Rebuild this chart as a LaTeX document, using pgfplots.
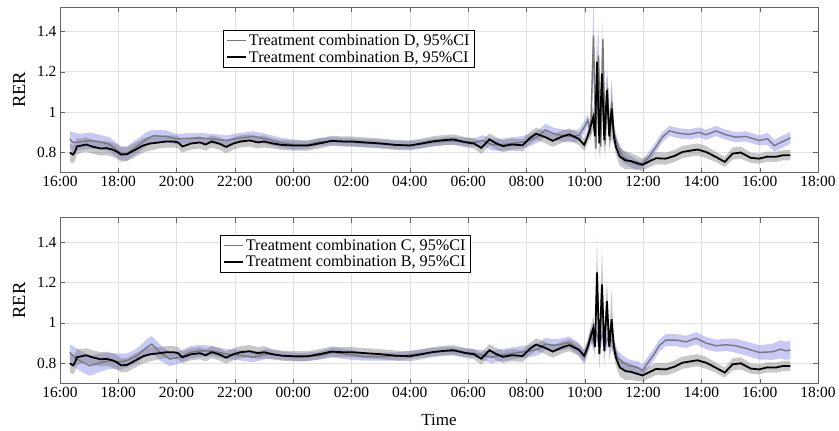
\documentclass[border=0pt]{standalone}
\usepackage{fontspec}
\setmainfont{Liberation Serif}
\usepackage{pgfplots}
\usepackage{pgfplotstable}
\pgfplotsset{compat=1.18}
\usepgfplotslibrary{fillbetween}
\definecolor{ciblue}{RGB}{120,120,235}
\definecolor{cigray}{RGB}{110,110,110}
\definecolor{lgray}{RGB}{120,120,120}
\definecolor{axgray}{RGB}{100,100,100}

% B (shared)
\pgfplotstableread{
x m w
0.34 0.800 0.045
0.45 0.790 0.045
0.52 0.805 0.045
0.58 0.830 0.04
0.75 0.835 0.035
0.9 0.840 0.035
1.1 0.830 0.035
1.4 0.820 0.035
1.6 0.822 0.035
1.8 0.815 0.035
1.95 0.805 0.035
2.1 0.790 0.035
2.3 0.792 0.035
2.6 0.815 0.035
2.85 0.835 0.035
3.1 0.845 0.035
3.4 0.850 0.03
3.65 0.855 0.03
3.9 0.855 0.03
4.05 0.850 0.03
4.2 0.830 0.03
4.5 0.845 0.03
4.8 0.850 0.03
5.0 0.840 0.03
5.2 0.855 0.03
5.45 0.845 0.03
5.7 0.828 0.03
5.95 0.845 0.03
6.2 0.855 0.03
6.5 0.860 0.03
6.8 0.850 0.03
7.0 0.855 0.03
7.3 0.845 0.025
7.6 0.838 0.025
8.0 0.835 0.025
8.5 0.835 0.025
9.0 0.848 0.025
9.3 0.858 0.025
9.7 0.855 0.025
10.0 0.855 0.025
10.5 0.850 0.025
11.0 0.845 0.025
11.5 0.838 0.025
12.0 0.835 0.025
12.4 0.845 0.025
12.8 0.856 0.025
13.2 0.862 0.025
13.5 0.865 0.025
13.9 0.851 0.025
14.2 0.845 0.025
14.45 0.823 0.03
14.73 0.865 0.03
14.96 0.846 0.03
15.19 0.832 0.03
15.5 0.840 0.03
15.87 0.836 0.03
16.1 0.870 0.03
16.33 0.893 0.03
16.67 0.875 0.03
16.9 0.858 0.03
17.24 0.880 0.03
17.47 0.890 0.03
17.8 0.867 0.03
17.98 0.838 0.03
18.1 0.880 0.035
18.2 0.930 0.045
18.29 0.975 0.06
18.35 0.880 0.07
18.42 1.250 0.17
18.50 0.846 0.08
18.59 1.190 0.19
18.67 0.860 0.07
18.76 1.108 0.11
18.84 0.880 0.06
18.92 1.018 0.15
19.0 0.880 0.045
19.07 0.827 0.04
19.2 0.780 0.045
19.4 0.761 0.045
19.58 0.758 0.04
19.8 0.748 0.035
19.98 0.740 0.03
20.15 0.752 0.03
20.44 0.772 0.03
20.78 0.770 0.03
21.07 0.783 0.03
21.35 0.803 0.03
21.64 0.810 0.03
21.87 0.815 0.03
22.16 0.803 0.03
22.5 0.778 0.025
22.8 0.754 0.025
23.07 0.795 0.03
23.35 0.800 0.03
23.69 0.774 0.025
23.98 0.770 0.025
24.26 0.780 0.025
24.55 0.779 0.025
24.8 0.787 0.025
25.05 0.787 0.025
}\dataB

% D
\pgfplotstableread{
x m w
0.34 0.867 0.04
0.45 0.850 0.05
0.68 0.853 0.04
1.03 0.859 0.04
1.37 0.853 0.035
1.71 0.840 0.035
2.06 0.800 0.035
2.28 0.794 0.035
2.63 0.830 0.035
2.98 0.867 0.035
3.2 0.883 0.03
3.65 0.880 0.03
4.0 0.867 0.025
4.34 0.870 0.025
4.8 0.872 0.025
5.25 0.867 0.025
5.7 0.860 0.025
6.17 0.872 0.025
6.62 0.880 0.025
7.08 0.867 0.025
7.54 0.850 0.025
7.99 0.840 0.025
8.45 0.837 0.02
8.9 0.853 0.02
9.36 0.856 0.02
9.8 0.852 0.02
10.3 0.848 0.02
10.8 0.845 0.02
11.3 0.840 0.02
11.8 0.836 0.02
12.3 0.840 0.02
12.8 0.850 0.02
13.3 0.858 0.02
13.8 0.855 0.02
14.2 0.850 0.02
14.5 0.860 0.025
14.8 0.840 0.03
15.1 0.838 0.03
15.5 0.845 0.03
15.8 0.850 0.03
16.1 0.860 0.03
16.4 0.880 0.03
16.65 0.912 0.03
16.9 0.895 0.03
17.2 0.885 0.03
17.5 0.880 0.03
17.8 0.885 0.03
18.0 0.930 0.03
18.1 0.960 0.03
18.2 0.900 0.05
18.3 1.380 0.20
18.38 0.820 0.07
18.47 1.280 0.15
18.55 0.830 0.07
18.62 1.360 0.10
18.70 0.840 0.07
18.78 1.120 0.08
18.86 0.860 0.06
18.93 1.050 0.08
19.0 0.900 0.04
19.12 0.837 0.03
19.3 0.780 0.03
19.7 0.745 0.025
19.93 0.736 0.02
20.15 0.770 0.025
20.44 0.828 0.025
20.66 0.876 0.025
20.9 0.907 0.025
21.24 0.895 0.025
21.58 0.890 0.025
21.93 0.900 0.025
22.16 0.888 0.025
22.5 0.907 0.025
22.84 0.888 0.025
23.18 0.876 0.025
23.52 0.880 0.025
23.98 0.860 0.025
24.27 0.868 0.03
24.5 0.834 0.03
24.72 0.850 0.03
25.05 0.872 0.03
}\dataD

% C
\pgfplotstableread{
x m w
0.34 0.854 0.04
0.5 0.830 0.05
0.68 0.813 0.05
1.03 0.788 0.05
1.37 0.803 0.045
1.71 0.813 0.04
2.06 0.808 0.04
2.28 0.813 0.035
2.63 0.837 0.035
2.98 0.879 0.04
3.15 0.895 0.04
3.43 0.854 0.04
3.77 0.821 0.035
4.11 0.830 0.03
4.45 0.854 0.03
4.8 0.862 0.03
5.25 0.860 0.025
5.7 0.846 0.025
6.17 0.840 0.025
6.62 0.830 0.025
7.08 0.846 0.025
7.65 0.838 0.02
8.22 0.830 0.02
8.9 0.838 0.02
9.36 0.854 0.025
9.93 0.843 0.025
10.5 0.833 0.02
11.07 0.833 0.02
11.65 0.835 0.02
12.22 0.846 0.02
12.8 0.855 0.02
13.3 0.862 0.02
13.8 0.855 0.02
14.2 0.850 0.02
14.5 0.840 0.025
14.8 0.830 0.03
15.1 0.840 0.03
15.5 0.848 0.03
15.8 0.855 0.03
16.1 0.860 0.03
16.4 0.870 0.03
16.65 0.895 0.03
16.9 0.890 0.03
17.13 0.892 0.03
17.47 0.903 0.03
17.75 0.875 0.03
17.98 0.830 0.035
18.1 0.880 0.035
18.2 0.944 0.035
18.3 0.900 0.04
18.4 0.950 0.04
18.5 0.890 0.04
18.6 0.945 0.04
18.7 0.890 0.04
18.8 0.930 0.04
18.95 0.910 0.035
19.12 0.830 0.035
19.29 0.805 0.035
19.53 0.788 0.03
19.81 0.780 0.03
19.98 0.764 0.03
20.15 0.800 0.03
20.38 0.846 0.03
20.55 0.887 0.03
20.78 0.915 0.03
21.13 0.915 0.03
21.47 0.906 0.03
21.82 0.924 0.03
22.16 0.900 0.03
22.5 0.887 0.03
22.84 0.892 0.03
23.18 0.887 0.035
23.52 0.874 0.035
23.98 0.854 0.035
24.44 0.857 0.04
24.72 0.870 0.045
24.89 0.862 0.045
25.05 0.866 0.045
}\dataC

\pgfplotsset{rerstyle/.style={
  scale only axis, width=759pt, height=166pt,
  xmin=0, xmax=26, ymin=0.7, ymax=1.52,
  xtick={0,2,...,26},
  xticklabels={16:00,18:00,20:00,22:00,00:00,02:00,04:00,06:00,08:00,10:00,12:00,14:00,16:00,18:00},
  ytick={0.8,1,1.2,1.4}, yticklabels={0.8,1,1.2,1.4},
  grid=major, major grid style={black!12, line width=0.6pt},
  tick align=inside, axis line style={axgray, line width=0.6pt}, tick style={axgray},
  major tick length=5pt,
  ticklabel style={font=\fontsize{15.5}{18}\selectfont},
  ylabel={RER}, ylabel style={font=\fontsize{18.5}{21}\selectfont,
     at={(axis description cs:0,0.5)}, anchor=center, yshift=41pt},
  legend cell align=left,
  legend style={font=\fontsize{16.2}{18.5}\selectfont, draw=black, line width=0.5pt,
     inner xsep=3pt, inner ysep=2pt, row sep=0pt},
  legend image code/.code={\draw[##1] (0pt,0pt) -- (19pt,0pt);},
  /pgf/number format/assume math mode=true,
}}

\begin{document}
\begin{tikzpicture}

\begin{axis}[rerstyle, at={(60pt,258pt)}, anchor=south west,
  legend style={at={(rel axis cs:0.215,0.861)}, anchor=north west}]
  \addplot[name path=Dup, draw=none, forget plot] table[x=x, y expr=\thisrow{m}+\thisrow{w}] {\dataD};
  \addplot[name path=Dlo, draw=none, forget plot] table[x=x, y expr=\thisrow{m}-\thisrow{w}] {\dataD};
  \addplot[ciblue, fill opacity=0.4, draw=none, forget plot] fill between[of=Dup and Dlo];
  \addplot[name path=Bup, draw=none, forget plot] table[x=x, y expr=\thisrow{m}+\thisrow{w}] {\dataB};
  \addplot[name path=Blo, draw=none, forget plot] table[x=x, y expr=\thisrow{m}-\thisrow{w}] {\dataB};
  \addplot[cigray, fill opacity=0.38, draw=none, forget plot] fill between[of=Bup and Blo];
  \addplot[lgray, line width=1.4pt] table[x=x, y=m] {\dataD};
  \addlegendentry{Treatment combination D, 95\%CI}
  \addplot[black, line width=1.8pt] table[x=x, y=m] {\dataB};
  \addlegendentry{Treatment combination B, 95\%CI}
\end{axis}

\begin{axis}[rerstyle, at={(60pt,47pt)}, anchor=south west,
  xlabel={Time}, xlabel style={font=\fontsize{17}{20}\selectfont,
     at={(axis description cs:0.5,0)}, anchor=base, yshift=-42pt},
  legend style={at={(rel axis cs:0.211,0.898)}, anchor=north west}]
  \addplot[name path=Cup, draw=none, forget plot] table[x=x, y expr=\thisrow{m}+\thisrow{w}] {\dataC};
  \addplot[name path=Clo, draw=none, forget plot] table[x=x, y expr=\thisrow{m}-\thisrow{w}] {\dataC};
  \addplot[ciblue, fill opacity=0.4, draw=none, forget plot] fill between[of=Cup and Clo];
  \addplot[name path=Bup, draw=none, forget plot] table[x=x, y expr=\thisrow{m}+\thisrow{w}] {\dataB};
  \addplot[name path=Blo, draw=none, forget plot] table[x=x, y expr=\thisrow{m}-\thisrow{w}] {\dataB};
  \addplot[cigray, fill opacity=0.38, draw=none, forget plot] fill between[of=Bup and Blo];
  \addplot[lgray, line width=1.4pt] table[x=x, y=m] {\dataC};
  \addlegendentry{Treatment combination C, 95\%CI}
  \addplot[black, line width=1.8pt] table[x=x, y=m] {\dataB};
  \addlegendentry{Treatment combination B, 95\%CI}
\end{axis}
\path (0,0) rectangle (839pt,431pt);
\end{tikzpicture}
\end{document}
